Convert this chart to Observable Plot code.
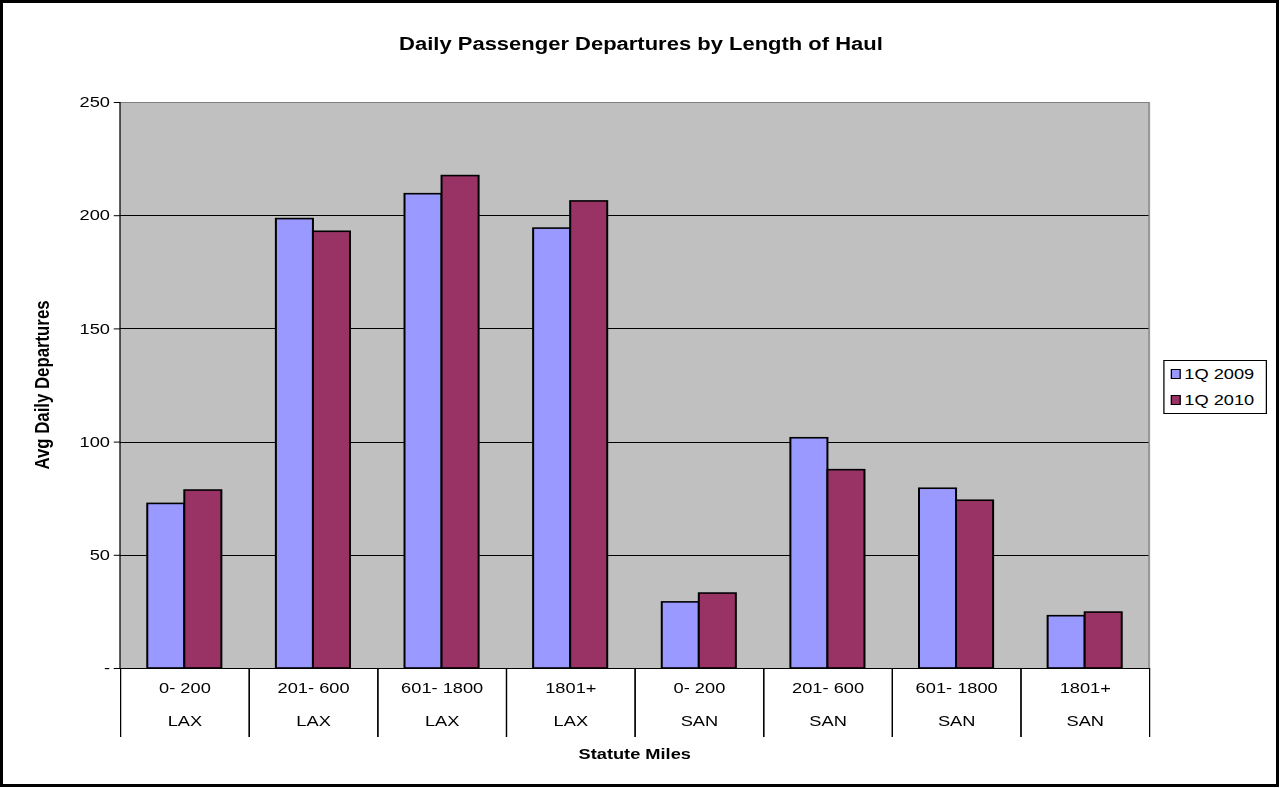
<!DOCTYPE html>
<html>
<head>
<meta charset="utf-8">
<script src="https://cdn.jsdelivr.net/npm/d3@7"></script>
<script src="https://cdn.jsdelivr.net/npm/@observablehq/plot@0.6"></script>
<style>
  html, body { margin: 0; padding: 0; background: #fff; }
  #page { position: relative; width: 1282px; height: 788px; overflow: hidden;
          font-family: "Liberation Sans", Arial, sans-serif; color: #000; }
  #border { position: absolute; left: 0; top: 0; width: 1279px; height: 787px;
            border: 3px solid #000; box-sizing: border-box; pointer-events: none; }
  #stage { position: absolute; left: 0; top: 0; width: 1026px; height: 788px;
           transform: scaleX(1.2495); transform-origin: 0 0; }
  #title { position: absolute; left: 0; width: 1026px; top: 33px; text-align: center;
           font-weight: bold; font-size: 17.6px; line-height: 22px; }
  #chart { position: absolute; left: 0; top: 80px; }
  #ylabel { position: absolute; left: 34.4px; top: 385px; transform: translate(-50%, -50%) rotate(-90deg);
            font-weight: bold; font-size: 16.8px; white-space: nowrap; line-height: 18px; }
  #xlabel { position: absolute; left: 96px; width: 824px; top: 745px; text-align: center;
            font-weight: bold; font-size: 14.6px; line-height: 18px; }
  #legend { position: absolute; left: 930.8px; top: 360px; width: 83px; height: 54px;
            border: 1px solid #000; background: #fff; box-sizing: border-box; font-size: 14.6px; }
  .item { display: flex; align-items: center; height: 26px; }
  .sw { width: 6px; height: 8px; border: 1.2px solid #000; margin-left: 5px; margin-right: 3px; }
</style>
</head>
<body>
<div id="page">
  <div id="stage">
    <div id="title">Daily Passenger Departures by Length of Haul</div>
    <div id="chart"></div>
    <div id="ylabel">Avg Daily Departures</div>
    <div id="xlabel">Statute Miles</div>
    <div id="legend"></div>
  </div>
  <div id="border"></div>
</div>
<script>
// ---- data ----
const ranges = ["0- 200", "201- 600", "601- 1800", "1801+", "0- 200", "201- 600", "601- 1800", "1801+"];
const airports = ["LAX", "LAX", "LAX", "LAX", "SAN", "SAN", "SAN", "SAN"];
const series = ["1Q 2009", "1Q 2010"];
const values2009 = [72.7, 198.5, 209.5, 194.3, 29.2, 101.7, 79.4, 23.1];
const values2010 = [78.6, 192.9, 217.5, 206.3, 33.1, 87.6, 74.1, 24.7];
const yTicks = [0, 50, 100, 150, 200, 250];
const colors = ["#9999FF", "#993366"];

// ---- tables built from the arrays ----
const keys = ranges.map((r, i) => airports[i] + " " + r);
const cats = keys.map((k, i) => ({key: k, range: ranges[i], airport: airports[i]}));
const rows = [];
keys.forEach((k, i) => {
  rows.push({key: k, series: series[0], value: values2009[i]});
  rows.push({key: k, series: series[1], value: values2010[i]});
});

// ---- layout (un-stretched coordinates; stage is scaled horizontally) ----
const W = 1026, H = 700;
const S = 1282 / W;
const mL = 120 / S, mT = 22, mB = 112;
const mR = W - 1149 / S;
const plotH = H - mT - mB;

const chart = Plot.plot({
  width: W, height: H,
  marginLeft: mL, marginRight: mR, marginTop: mT, marginBottom: mB,
  style: "font: 14.6px 'Liberation Sans', Arial, sans-serif; background: transparent; overflow: visible; color: #000;",
  fx: {domain: keys, paddingInner: 0, paddingOuter: 0, round: false, axis: null, label: null},
  x: {domain: series, paddingInner: 0, paddingOuter: 0.736, round: false, axis: null, label: null},
  y: {domain: [0, 250], ticks: yTicks, tickFormat: d => d === 0 ? "-" : String(d), tickSize: 5, tickPadding: 3.5, label: null},
  color: {domain: series, range: colors},
  marks: [
    Plot.frame({fill: "#C0C0C0", stroke: "#C0C0C0", strokeWidth: 1}),
    Plot.ruleY(yTicks.filter(t => t > 0 && t < 250), {stroke: "#000", strokeWidth: 1, shapeRendering: "crispEdges"}),
    Plot.ruleY([250], {stroke: "#808080", shapeRendering: "crispEdges"}),
    Plot.barY(rows, {fx: "key", x: "series", y: "value", fill: "series", stroke: "#000", strokeWidth: 1.6}),
    Plot.ruleY([0], {stroke: "#000", shapeRendering: "crispEdges"}),
    Plot.frame({anchor: "left", stroke: "#000", insetTop: plotH, insetBottom: -68}),
    Plot.frame({anchor: "right", stroke: "#000", insetTop: plotH, insetBottom: -68}),
    Plot.text(cats, {fx: "key", text: "range", frameAnchor: "bottom", dy: 24, fill: "#000"}),
    Plot.text(cats, {fx: "key", text: "airport", frameAnchor: "bottom", dy: 57, fill: "#000"})
  ]
});

// plot-area edges: y-axis line and right border
const sel = d3.select(chart);
sel.append("line").attr("x1", mL).attr("x2", mL).attr("y1", mT).attr("y2", H - mB)
  .attr("stroke", "#000");
sel.append("line").attr("x1", W - mR).attr("x2", W - mR).attr("y1", mT).attr("y2", H - mB)
  .attr("stroke", "#808080");

document.getElementById("chart").appendChild(chart);

// legend
const legend = document.getElementById("legend");
series.forEach((s, i) => {
  const item = document.createElement("div");
  item.className = "item";
  const sw = document.createElement("span");
  sw.className = "sw";
  sw.style.background = colors[i];
  const label = document.createElement("span");
  label.textContent = s;
  item.appendChild(sw);
  item.appendChild(label);
  legend.appendChild(item);
});
</script>
</body>
</html>
